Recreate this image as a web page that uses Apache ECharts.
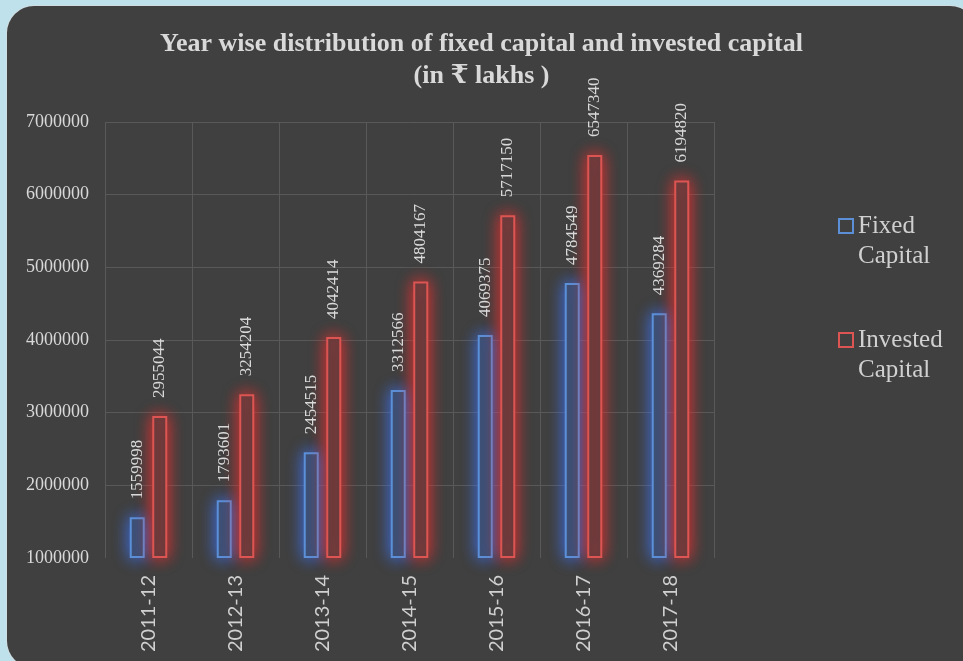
<!DOCTYPE html>
<html>
<head>
<meta charset="utf-8">
<script src="https://cdn.jsdelivr.net/npm/echarts@6/dist/echarts.min.js"></script>
<style>
  html, body { margin: 0; padding: 0; width: 963px; height: 661px; overflow: hidden; background: #bfe1ec; }
  #panel { position: absolute; left: 7px; top: 6px; width: 970px; height: 662px; background: #404040; border-radius: 27px; box-shadow: 0 0 0 1px rgba(220,220,220,0.55); }
  #chart { position: absolute; left: 0; top: 0; width: 963px; height: 661px; }
</style>
</head>
<body>
<div id="panel"></div>
<div id="chart"></div>
<script>
// Year-wise fixed capital vs invested capital (₹ lakhs)
const years = ['2011-12', '2012-13', '2013-14', '2014-15', '2015-16', '2016-17', '2017-18'];
const fixedCapital = [1559998, 1793601, 2454515, 3312566, 4069375, 4784549, 4369284];
const investedCapital = [2955044, 3254204, 4042414, 4804167, 5717150, 6547340, 6194820];
const seriesNames = ['Fixed Capital', 'Invested Capital'];

const serif = '"Liberation Serif", "Times New Roman", "DejaVu Serif", serif';
const textColor = '#d9d9d9';
const gridColor = '#595959';

const blueLine = '#5b8fd8';
const redLine = '#dc5552';

const chart = echarts.init(document.getElementById('chart'), null, { renderer: 'canvas' });

function barSeries(name, values, line, fill, glow) {
  return {
    name: name,
    type: 'bar',
    data: values,
    barWidth: 15,
    barGap: '50%',
    clip: false,
    itemStyle: {
      color: fill,
      borderColor: line,
      borderWidth: 2,
      shadowBlur: 16,
      shadowColor: glow
    },
    label: {
      show: true,
      position: 'top',
      rotate: 90,
      align: 'left',
      verticalAlign: 'middle',
      distance: 18,
      color: textColor,
      fontFamily: serif,
      fontSize: 17
    }
  };
}

chart.setOption({
  backgroundColor: 'transparent',
  animation: false,
  title: {
    text: 'Year wise distribution of fixed capital and invested capital\n(in ₹ lakhs )',
    left: 'center',
    top: 23,
    textStyle: {
      color: textColor,
      fontFamily: serif,
      fontWeight: 'bold',
      fontSize: 26,
      lineHeight: 32
    }
  },
  legend: {
    orient: 'vertical',
    left: 838,
    top: 181,
    padding: 0,
    itemWidth: 14,
    itemHeight: 14,
    itemGap: 24,
    // leading blank line keeps the first word level with the marker
    formatter: name => '\n' + name.replace(' ', '\n'),
    textStyle: {
      color: '#d0d0d0',
      fontFamily: serif,
      fontSize: 25,
      lineHeight: 30
    },
    data: [
      { name: seriesNames[0], icon: 'rect', itemStyle: { color: 'transparent', borderColor: blueLine, borderWidth: 2, shadowBlur: 0 } },
      { name: seriesNames[1], icon: 'rect', itemStyle: { color: 'transparent', borderColor: redLine, borderWidth: 2, shadowBlur: 0 } }
    ]
  },
  grid: { left: 105, right: 249, top: 122, bottom: 103 },
  xAxis: {
    type: 'category',
    data: years,
    axisLine: { show: false },
    axisTick: { show: false },
    splitLine: { show: true, lineStyle: { color: gridColor, width: 1 } },
    axisLabel: {
      rotate: 90,
      margin: 17,
      color: '#d0d0d0',
      fontFamily: 'Lato, "Open Sans", sans-serif',
      fontSize: 20
    }
  },
  yAxis: {
    type: 'value',
    min: 1000000,
    max: 7000000,
    interval: 1000000,
    startValue: 1000000,
    axisLine: { show: false },
    axisTick: { show: false },
    splitLine: {
      show: true,
      lineStyle: { color: ['rgba(0,0,0,0)', gridColor, gridColor, gridColor, gridColor, gridColor, gridColor], width: 1 }
    },
    axisLabel: {
      margin: 16,
      color: textColor,
      fontFamily: serif,
      fontSize: 18,
      formatter: v => String(v)
    }
  },
  series: [
    barSeries(seriesNames[0], fixedCapital, blueLine, '#3f4b61', 'rgba(60,115,245,1)'),
    barSeries(seriesNames[1], investedCapital, redLine, '#573d3e', 'rgba(245,45,45,1)')
  ]
});
</script>
</body>
</html>
